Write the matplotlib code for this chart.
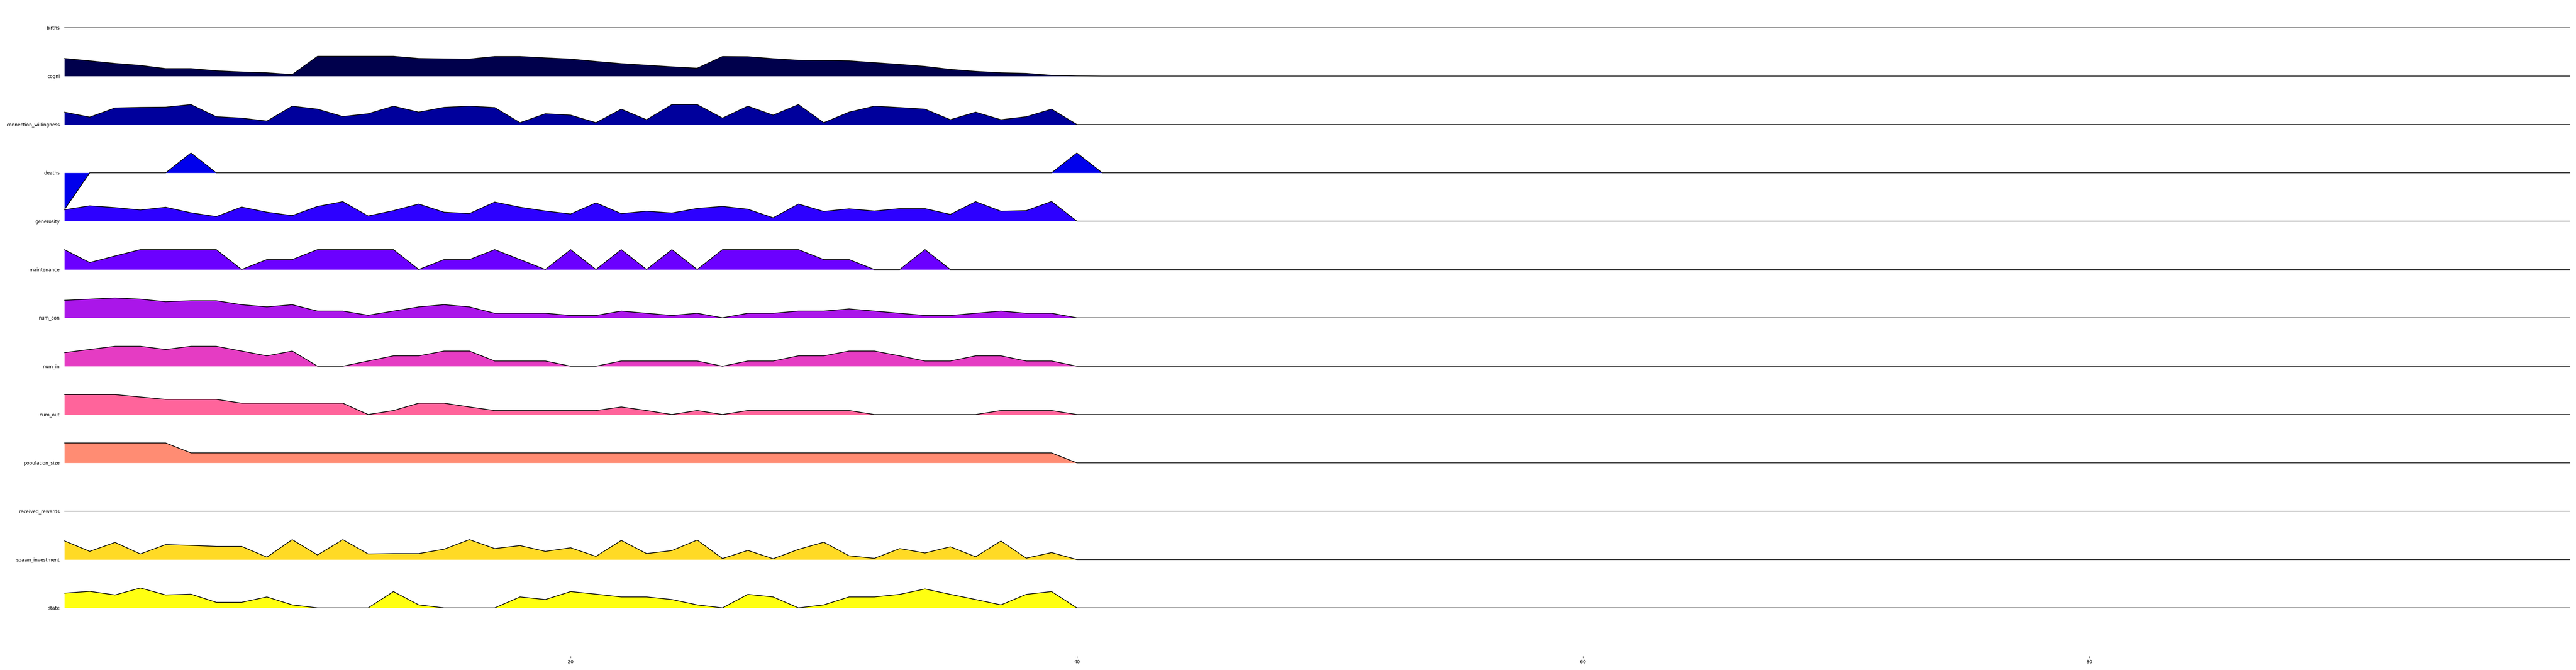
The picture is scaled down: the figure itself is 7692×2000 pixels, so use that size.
import matplotlib
matplotlib.use("Agg")
import matplotlib.pyplot as plt

# Columns, in plotting order (top to bottom)
labels = ["births", "cogni", "connection_willingness", "deaths", "generosity",
          "maintenance", "num_con", "num_in", "num_out", "population_size",
          "received_rewards", "spawn_investment", "state"]

# Normalised values, steps 0..40 (everything after is 0)
births = [0.0] * 41
cogni = [0.89, 0.77, 0.64, 0.54, 0.38, 0.38, 0.27, 0.21, 0.17, 0.08,
         1.0, 1.0, 1.0, 1.0, 0.89, 0.87, 0.86, 0.99, 0.99, 0.92,
         0.86, 0.74, 0.63, 0.55, 0.47, 0.40, 0.99, 0.98, 0.88, 0.80,
         0.79, 0.77, 0.68, 0.59, 0.49, 0.34, 0.24, 0.17, 0.14, 0.04, 0.01]
connection_willingness = [0.62, 0.37, 0.83, 0.86, 0.87, 1.0, 0.39, 0.32, 0.17, 0.92,
                          0.77, 0.40, 0.54, 0.92, 0.62, 0.86, 0.92, 0.85, 0.09, 0.54,
                          0.47, 0.09, 0.77, 0.24, 1.0, 1.0, 0.32, 0.92, 0.47, 1.0,
                          0.09, 0.62, 0.92, 0.85, 0.77, 0.24, 0.62, 0.24, 0.39, 0.77, 0.0]
deaths = [-1.85, 0, 0, 0, 0, 1.0, 0, 0, 0, 0,
          0, 0, 0, 0, 0, 0, 0, 0, 0, 0,
          0, 0, 0, 0, 0, 0, 0, 0, 0, 0,
          0, 0, 0, 0, 0, 0, 0, 0, 0, 0, 1.0]
generosity = [0.57, 0.77, 0.68, 0.56, 0.70, 0.42, 0.23, 0.71, 0.45, 0.28,
              0.74, 0.98, 0.26, 0.53, 0.86, 0.45, 0.38, 0.96, 0.70, 0.51,
              0.36, 0.92, 0.38, 0.50, 0.41, 0.64, 0.74, 0.60, 0.17, 0.86,
              0.49, 0.62, 0.51, 0.63, 0.63, 0.34, 0.98, 0.50, 0.53, 0.99, 0.0]
maintenance = [1.0, 0.35, 0.68, 1.0, 1.0, 1.0, 1.0, 0.0, 0.5, 0.5,
               1.0, 1.0, 1.0, 1.0, 0.0, 0.5, 0.5, 1.0, 0.5, 0.0,
               1.0, 0.0, 1.0, 0.0, 1.0, 0.0, 1.0, 1.0, 1.0, 1.0,
               0.5, 0.5, 0.0, 0.0, 1.0, 0.0, 0.0, 0.0, 0.0, 0.0, 0.0]
num_con = [0.88, 0.94, 1.0, 0.94, 0.81, 0.86, 0.86, 0.66, 0.55, 0.66,
           0.34, 0.34, 0.13, 0.34, 0.55, 0.66, 0.55, 0.23, 0.23, 0.23,
           0.12, 0.12, 0.34, 0.23, 0.12, 0.23, 0.0, 0.23, 0.23, 0.34,
           0.34, 0.45, 0.34, 0.23, 0.12, 0.12, 0.23, 0.34, 0.23, 0.23, 0.0]
num_in = [0.68, 0.84, 1.0, 1.0, 0.84, 1.0, 1.0, 0.76, 0.52, 0.76,
          0.0, 0.0, 0.26, 0.52, 0.52, 0.76, 0.76, 0.26, 0.26, 0.26,
          0.0, 0.0, 0.26, 0.26, 0.26, 0.26, 0.0, 0.26, 0.26, 0.52,
          0.52, 0.76, 0.76, 0.52, 0.26, 0.26, 0.52, 0.52, 0.26, 0.26, 0.0]
num_out = [1.0, 1.0, 1.0, 0.88, 0.76, 0.76, 0.76, 0.57, 0.57, 0.57,
           0.57, 0.57, 0.0, 0.2, 0.57, 0.57, 0.38, 0.2, 0.2, 0.2,
           0.2, 0.2, 0.38, 0.2, 0.0, 0.2, 0.0, 0.2, 0.2, 0.2,
           0.2, 0.2, 0.0, 0.0, 0.0, 0.0, 0.0, 0.2, 0.2, 0.2, 0.0]
population_size = [1.0] * 5 + [0.5] * 35 + [0.0]
received_rewards = [0.0] * 41
spawn_investment = [0.94, 0.41, 0.86, 0.28, 0.75, 0.71, 0.66, 0.66, 0.12, 1.0,
                    0.23, 1.0, 0.28, 0.30, 0.30, 0.52, 1.0, 0.55, 0.70, 0.41,
                    0.59, 0.16, 0.96, 0.30, 0.45, 0.98, 0.05, 0.46, 0.04, 0.51,
                    0.87, 0.19, 0.06, 0.55, 0.33, 0.64, 0.14, 0.93, 0.07, 0.35, 0.0]
state = [0.74, 0.83, 0.65, 1.0, 0.65, 0.69, 0.28, 0.28, 0.55, 0.15,
         0.0, 0.0, 0.0, 0.82, 0.15, 0.0, 0.0, 0.0, 0.55, 0.42,
         0.82, 0.69, 0.55, 0.55, 0.42, 0.15, 0.0, 0.68, 0.55, 0.0,
         0.15, 0.55, 0.55, 0.68, 0.95, 0.68, 0.42, 0.15, 0.68, 0.82, 0.0]

series = [births, cogni, connection_willingness, deaths, generosity,
          maintenance, num_con, num_in, num_out, population_size,
          received_rewards, spawn_investment, state]

n_steps = 100
x_ticks = [20, 40, 60, 80]

# layout in pixels of the 7692 x 2000 canvas
W, H = 7692, 2000
left_px, right_px = 192.3, 7675
first_base = 83
row_gap = 144.3
unit = 59.5
ymin, ymax = -row_gap / unit, 1.1

fig = plt.figure(figsize=(W / 100, H / 100), dpi=100)
cmap = plt.cm.gnuplot2
n = len(labels)

for i, (name, vals) in enumerate(zip(labels, series)):
    base = first_base + row_gap * i
    bottom = base + row_gap
    top = base - ymax * unit
    ax = fig.add_axes([left_px / W, 1 - bottom / H,
                       (right_px - left_px) / W, (bottom - top) / H])
    ax.patch.set_alpha(0)

    y = vals + [0.0] * (n_steps - len(vals))
    x = list(range(n_steps))
    ax.fill_between(x, 0, y, color=cmap(i / n), lw=0)
    ax.plot(x, y, color="k", lw=1.5)

    ax.set_xlim(0, n_steps - 1)
    ax.set_ylim(ymin, ymax)
    for s in ax.spines.values():
        s.set_visible(False)
    ax.set_yticks([0])
    ax.set_yticklabels([name])
    ax.tick_params(axis="y", length=0, pad=10, labelsize=10)
    if i < n - 1:
        ax.tick_params(axis="x", bottom=False, labelbottom=False)
    else:
        ax.set_xticks(x_ticks)
        ax.tick_params(axis="x", labelsize=10)

fig.savefig("out.png", dpi=100)
